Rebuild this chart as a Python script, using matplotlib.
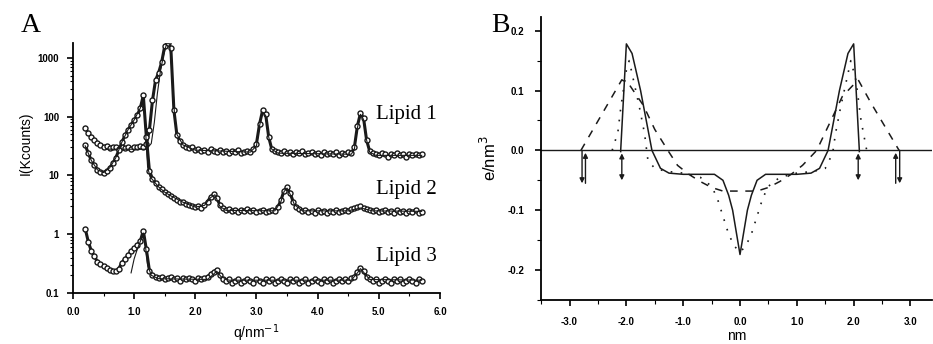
import numpy as np
import matplotlib
matplotlib.use('Agg')
import matplotlib.pyplot as plt
from matplotlib.ticker import FixedLocator, MultipleLocator, LogLocator, NullFormatter

# ---- panel A : SAXS curves ----
q = np.round(np.arange(0.20, 5.701, 0.05), 2)

lipid1 = [65, 52, 45, 40, 36, 33, 31, 32, 29, 31,          # 0.20-0.65
          30, 28, 31, 29, 30, 28, 31, 30, 32, 31,          # 0.70-1.15
          34, 60, 190, 420, 560, 850, 1600, 1800, 1500, 130,  # 1.20-1.65
          48, 38, 33, 31, 29, 30, 27, 28, 26, 27,          # 1.70-2.15
          25, 28, 26, 25, 27, 25, 26, 24, 26, 25,          # 2.20-2.65
          27, 24, 25, 26, 25, 28, 35, 75, 128, 110,        # 2.70-3.15
          45, 28, 26, 25, 24, 26, 24, 25, 23, 25,          # 3.20-3.65
          24, 26, 23, 24, 25, 23, 24, 22, 25, 23,          # 3.70-4.15
          24, 23, 25, 22, 24, 23, 25, 24, 30, 70,          # 4.20-4.65
          115, 95, 40, 26, 24, 23, 22, 24, 23, 21,         # 4.70-5.15
          23, 22, 24, 22, 23, 21, 23, 22, 23, 22, 23]      # 5.20-5.70

lipid2 = [33, 24, 18, 15, 12.5, 11.5, 11.2, 11.8, 13.5, 16,
          20, 27, 37, 48, 60, 72, 88, 105, 140, 230,
          45, 12, 8.8, 7.5, 6.4, 5.8, 5.2, 4.9, 4.5, 4.1,
          3.8, 3.6, 3.5, 3.3, 3.2, 3.0, 2.9, 3.0, 2.8, 3.1,
          3.6, 4.3, 4.8, 4.2, 3.2, 2.8, 2.6, 2.7, 2.5, 2.6,
          2.4, 2.6, 2.5, 2.7, 2.5, 2.6, 2.4, 2.5, 2.6, 2.4,
          2.5, 2.6, 2.5, 2.9, 3.8, 5.5, 6.3, 5.0, 3.6, 2.9,
          2.7, 2.5, 2.6, 2.4, 2.5, 2.3, 2.6, 2.4, 2.5, 2.3,
          2.5, 2.4, 2.6, 2.4, 2.5, 2.6, 2.5, 2.7, 2.8, 2.9,
          3.0, 2.8, 2.7, 2.6, 2.5, 2.6, 2.4, 2.5, 2.6, 2.4,
          2.5, 2.3, 2.6, 2.4, 2.5, 2.3, 2.5, 2.4, 2.6, 2.3, 2.4]

lipid3 = [1.25, 0.75, 0.52, 0.42, 0.34, 0.31, 0.29, 0.27, 0.25, 0.24,
          0.235, 0.26, 0.33, 0.38, 0.44, 0.52, 0.58, 0.66, 0.76, 1.15,
          0.55, 0.24, 0.20, 0.19, 0.18, 0.19, 0.17, 0.18, 0.19, 0.17,
          0.18, 0.16, 0.18, 0.17, 0.18, 0.17, 0.16, 0.18, 0.17, 0.18,
          0.19, 0.21, 0.23, 0.25, 0.20, 0.17, 0.16, 0.17, 0.15, 0.16,
          0.17, 0.15, 0.16, 0.17, 0.16, 0.15, 0.17, 0.16, 0.15, 0.17,
          0.16, 0.17, 0.15, 0.16, 0.17, 0.16, 0.15, 0.17, 0.16, 0.17,
          0.15, 0.16, 0.17, 0.15, 0.16, 0.17, 0.16, 0.15, 0.17, 0.16,
          0.17, 0.15, 0.16, 0.17, 0.16, 0.17, 0.16, 0.18, 0.19, 0.23,
          0.27, 0.24, 0.19, 0.17, 0.16, 0.17, 0.15, 0.16, 0.17, 0.16,
          0.15, 0.17, 0.16, 0.17, 0.15, 0.16, 0.17, 0.16, 0.15, 0.17, 0.16]

# fitted curves
fit1_q = [0.55, 1.20, 1.28, 1.33, 1.38, 1.43, 1.48, 1.53, 1.58, 1.62, 1.66, 1.70, 1.80, 2.00, 2.90,
          3.00, 3.05, 3.10, 3.15, 3.20, 3.25, 3.35, 4.55, 4.60, 4.65, 4.70, 4.75, 4.80, 4.85, 4.95, 5.70]
fit1_I = [28, 28, 35, 80, 250, 600, 1100, 1750, 1750, 600, 110, 50, 33, 27, 25,
          32, 70, 120, 105, 45, 28, 24, 23, 28, 65, 110, 90, 40, 25, 22, 22]
fit2_q = [0.20, 0.30, 0.40, 0.50, 0.60, 0.70, 0.80, 0.90, 1.00, 1.10, 1.15, 1.18, 1.22, 1.26, 1.30,
          1.40, 1.50, 1.60, 1.80, 2.00, 2.15, 2.25, 2.32, 2.40, 2.50, 3.30, 3.40, 3.45, 3.50, 3.55,
          3.62, 3.75, 4.50, 4.70, 4.90, 5.70]
fit2_I = [32, 18, 12.5, 11.2, 13.5, 20, 37, 60, 88, 140, 210, 80, 14, 9.5, 8.5,
          6.4, 5.2, 4.5, 3.5, 2.9, 3.1, 4.2, 4.7, 3.0, 2.55, 2.5, 3.6, 5.3, 6.1, 4.8,
          3.2, 2.5, 2.5, 2.8, 2.5, 2.45]
fit3_q = [0.95, 1.00, 1.05, 1.10, 1.15, 1.18, 1.22, 1.28, 1.40, 2.20, 2.30, 2.35, 2.42, 2.55,
          4.55, 4.65, 4.70, 4.76, 4.85, 5.70]
fit3_I = [0.22, 0.38, 0.55, 0.75, 1.05, 0.7, 0.3, 0.2, 0.175, 0.17, 0.21, 0.235, 0.19, 0.165,
          0.165, 0.22, 0.26, 0.22, 0.17, 0.165]

labels_A = ['Lipid 1', 'Lipid 2', 'Lipid 3']
label_pos_I = [110, 5.8, 0.42]

# ---- panel B : electron density profiles ----
solid_x = [-2.1, -2.1, -2.0, -1.9, -1.75, -1.55, -1.4, -1.25, -1.0, -0.45, -0.3, -0.2, -0.13, 0.0,
           0.13, 0.2, 0.3, 0.45, 1.0, 1.25, 1.4, 1.55, 1.75, 1.9, 2.0, 2.1, 2.1]
solid_y = [-0.002, 0.0, 0.178, 0.162, 0.1, 0.0, -0.03, -0.038, -0.04, -0.04, -0.05, -0.075, -0.1, -0.174,
           -0.1, -0.075, -0.05, -0.04, -0.04, -0.038, -0.03, 0.0, 0.1, 0.162, 0.178, 0.0, -0.002]
dash_x = [-2.8, -2.08, -1.95, -1.7, -1.5, -1.27, -1.1, -0.9, -0.7, -0.5, -0.3, 0.3,
          0.5, 0.7, 0.9, 1.1, 1.35, 1.6, 1.8, 2.08, 2.3, 2.55, 2.8]
dash_y = [0.0, 0.118, 0.11, 0.075, 0.035, 0.0, -0.025, -0.04, -0.052, -0.062, -0.068, -0.068,
          -0.062, -0.052, -0.04, -0.025, 0.0, 0.05, 0.09, 0.118, 0.08, 0.04, 0.0]
dot_x = [-2.25, -2.15, -2.1, -2.0, -1.95, -1.77, -1.68, -1.62, -1.5, -1.3, -1.0, -0.7, -0.5, -0.4,
         -0.3, -0.2, -0.1, 0.0, 0.1, 0.2, 0.3, 0.4, 0.5, 0.7, 1.0, 1.3, 1.5, 1.63, 1.68, 1.77,
         1.95, 2.04, 2.13, 2.23]
dot_y = [0.0, 0.03, 0.07, 0.134, 0.15, 0.072, 0.028, -0.017, -0.03, -0.035, -0.038, -0.045, -0.06, -0.08,
         -0.11, -0.14, -0.16, -0.17, -0.16, -0.14, -0.11, -0.08, -0.06, -0.045, -0.038, -0.035, -0.03,
         -0.005, 0.028, 0.072, 0.15, 0.117, 0.05, 0.0]
# arrow markers below the zero line: x, kind
arrow_x = [-2.78, -2.72, -2.08, 2.08, 2.74, 2.81]
arrow_kind = ['down', 'up', 'both', 'both', 'up', 'down']

tick_font = {'family': 'Liberation Sans', 'size': 7, 'weight': 'bold'}
col = '#1a1a1a'

fig = plt.figure(figsize=(9.33, 3.44), dpi=100)

# panel A
ax = fig.add_axes([0.0782, 0.1483, 0.3934, 0.7267])
for vals, fq, fi in [(lipid1, fit1_q, fit1_I), (lipid2, fit2_q, fit2_I), (lipid3, fit3_q, fit3_I)]:
    ax.plot(q, vals, color=col, lw=2.2)
    ax.plot(q, vals, ls='none', marker='o', ms=3.6, mfc='white', mec=col, mew=1.0)
    ax.plot(fq, fi, color=col, lw=0.8)
ax.set_yscale('log')
ax.set_xlim(0, 6.0)
ax.set_ylim(0.1, 1800)
ax.xaxis.set_major_locator(MultipleLocator(1.0))
ax.xaxis.set_minor_locator(MultipleLocator(0.5))
ax.yaxis.set_major_locator(FixedLocator([0.1, 1, 10, 100, 1000]))
ax.yaxis.set_minor_locator(LogLocator(base=10, subs=np.arange(2, 10)))
ax.yaxis.set_minor_formatter(NullFormatter())
ax.set_xticks(range(7))
ax.set_xticklabels(['%.1f' % v for v in range(7)], fontdict=tick_font)
ax.set_yticks([0.1, 1, 10, 100, 1000])
ax.set_yticklabels(['0.1', '1', '10', '100', '1000'], fontdict=tick_font)
for s in ['top', 'right']:
    ax.spines[s].set_visible(False)
for s in ['left', 'bottom']:
    ax.spines[s].set_linewidth(1.3)
ax.tick_params(which='major', length=4, width=1.2, direction='out', pad=6)
ax.tick_params(which='minor', length=2.5, width=0.8, direction='out')
ax.set_xlabel('q/nm$^{-1}$', family='Liberation Sans', fontsize=10, labelpad=4)
ax.set_ylabel('I(Kcounts)', family='Liberation Sans', fontsize=10, labelpad=6)
ax.yaxis.set_label_coords(-0.11, 0.6)
for lab, yv in zip(labels_A, label_pos_I):
    ax.text(4.95, yv, lab, family='Liberation Serif', fontsize=15, va='center', ha='left')
fig.text(0.022, 0.925, 'A', family='Liberation Serif', fontsize=20, va='center')

# panel B
bx = fig.add_axes([0.580, 0.128, 0.419, 0.8227])
bx.axhline(0, color=col, lw=1.0)
bx.plot(solid_x, solid_y, color=col, lw=1.1)
bx.plot(dash_x, dash_y, color=col, lw=1.1, ls=(0, (5, 5)))
bx.plot(dot_x, dot_y, color=col, lw=1.2, ls=(0, (1, 5)))
for x, kind in zip(arrow_x, arrow_kind):
    if kind == 'down':
        bx.annotate('', xy=(x, -0.055), xytext=(x, 0.0),
                    arrowprops=dict(arrowstyle='-|>', color=col, lw=1.0, mutation_scale=7, shrinkA=0, shrinkB=0))
    elif kind == 'up':
        bx.annotate('', xy=(x, -0.004), xytext=(x, -0.055),
                    arrowprops=dict(arrowstyle='-|>', color=col, lw=1.0, mutation_scale=7, shrinkA=0, shrinkB=0))
    else:
        bx.annotate('', xy=(x, -0.005), xytext=(x, -0.05),
                    arrowprops=dict(arrowstyle='<|-|>', color=col, lw=1.0, mutation_scale=7, shrinkA=0, shrinkB=0))
bx.set_xlim(-3.5, 3.38)
bx.set_ylim(-0.25, 0.223)
bx.xaxis.set_minor_locator(MultipleLocator(0.5))
bx.yaxis.set_minor_locator(MultipleLocator(0.05))
xt = [-3, -2, -1, 0, 1, 2, 3]
bx.set_xticks(xt)
bx.set_xticklabels(['%.1f' % v for v in xt], fontdict=tick_font)
yt = [-0.2, -0.1, 0.0, 0.1, 0.2]
bx.set_yticks(yt)
bx.set_yticklabels(['%.1f' % v for v in yt], fontdict=tick_font)
for s in ['top', 'right']:
    bx.spines[s].set_visible(False)
for s in ['left', 'bottom']:
    bx.spines[s].set_linewidth(1.3)
bx.tick_params(which='major', length=4, width=1.2, direction='out', pad=8)
bx.tick_params(which='minor', length=3, width=0.8, direction='out')
bx.set_xlabel('nm', family='Liberation Sans', fontsize=10, labelpad=2)
bx.set_ylabel('e/nm$^3$', family='Liberation Sans', fontsize=12, labelpad=6)
fig.text(0.527, 0.925, 'B', family='Liberation Serif', fontsize=20, va='center')

fig.savefig('out.png', dpi=100)
